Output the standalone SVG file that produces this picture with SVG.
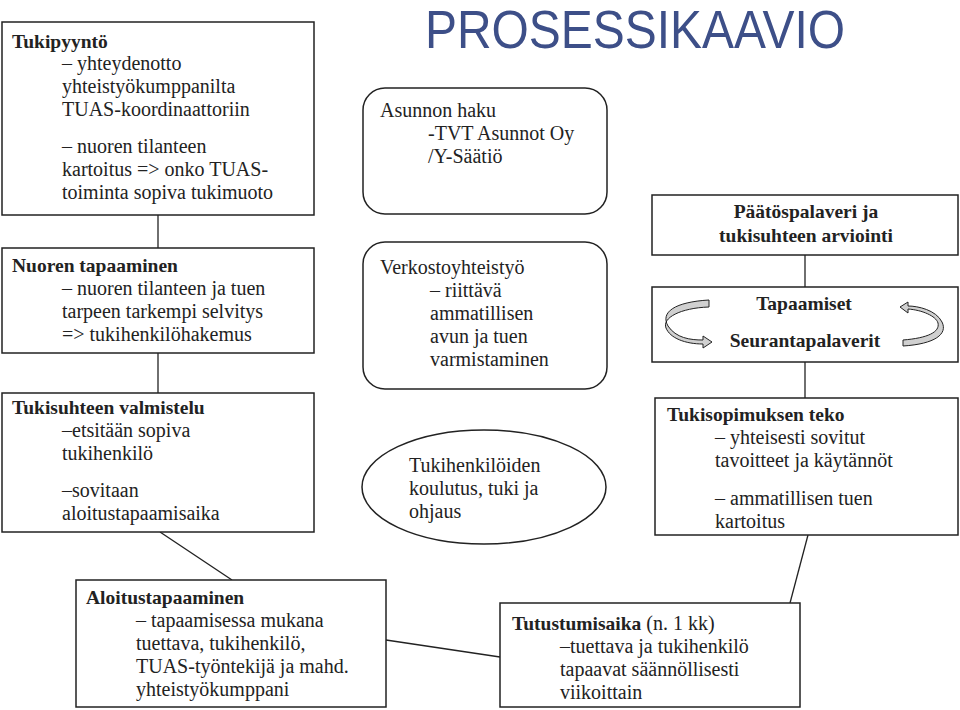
<svg xmlns="http://www.w3.org/2000/svg" width="960" height="710" viewBox="0 0 960 710">
<style>
.b{fill:#fff;stroke:#222;stroke-width:1.5}
text{font-family:"Liberation Serif","DejaVu Serif",serif;font-size:20px;fill:#222}
.h{font-weight:bold;font-size:19.5px}
.c line{stroke:#222;stroke-width:1.3}
.arr{fill:#d0d0d0;stroke:#222;stroke-width:1}
</style>
<rect width="960" height="710" fill="#fff"/>
<text x="635" y="48" text-anchor="middle" style="font-family:'Liberation Sans',sans-serif;font-size:54px;fill:#3d4f88" textLength="420" lengthAdjust="spacingAndGlyphs">PROSESSIKAAVIO</text>
<g class="c">
<line x1="158" y1="215" x2="158" y2="248"/>
<line x1="158" y1="353" x2="158" y2="393"/>
<line x1="160" y1="532" x2="232" y2="580"/>
<line x1="386" y1="640" x2="500" y2="657"/>
<line x1="805" y1="255" x2="805" y2="287"/>
<line x1="805" y1="362" x2="805" y2="398"/>
<line x1="808" y1="535" x2="790" y2="603"/>
</g>
<g id="tukipyynto"><rect class="b" x="2" y="22" width="312" height="193"/>
<text x="12" y="48" class="h">Tukipyyntö</text>
<text x="62" y="70">– yhteydenotto</text>
<text x="62" y="93">yhteistyökumppanilta</text>
<text x="62" y="116">TUAS-koordinaattoriin</text>
<text x="62" y="153">– nuoren tilanteen</text>
<text x="62" y="176">kartoitus =&gt; onko TUAS-</text>
<text x="62" y="199">toiminta sopiva tukimuoto</text></g>
<g id="nuoren"><rect class="b" x="2" y="248" width="312" height="105"/>
<text x="12" y="272" class="h">Nuoren tapaaminen</text>
<text x="62" y="295">– nuoren tilanteen ja tuen</text>
<text x="62" y="318">tarpeen tarkempi selvitys</text>
<text x="62" y="341">=&gt; tukihenkilöhakemus</text></g>
<g id="valmistelu"><rect class="b" x="2" y="393" width="312" height="139"/>
<text x="12" y="414" class="h">Tukisuhteen valmistelu</text>
<text x="62" y="437">–etsitään sopiva</text>
<text x="62" y="460">tukihenkilö</text>
<text x="62" y="497">–sovitaan</text>
<text x="62" y="520">aloitustapaamisaika</text></g>
<g id="aloitus"><rect class="b" x="76" y="580" width="310" height="127"/>
<text x="86" y="604" class="h">Aloitustapaaminen</text>
<text x="136" y="627">– tapaamisessa mukana</text>
<text x="136" y="650">tuettava, tukihenkilö,</text>
<text x="136" y="673">TUAS-työntekijä ja mahd.</text>
<text x="136" y="696">yhteistyökumppani</text></g>
<g id="asunnon"><rect class="b" x="363" y="88" width="244" height="126" rx="22"/>
<text x="380" y="117">Asunnon haku</text>
<text x="428" y="140">-TVT Asunnot Oy</text>
<text x="428" y="163">/Y-Säätiö</text></g>
<g id="verkosto"><rect class="b" x="363" y="242" width="244" height="147" rx="22"/>
<text x="380" y="274">Verkostoyhteistyö</text>
<text x="430" y="297">– riittävä</text>
<text x="430" y="320">ammatillisen</text>
<text x="430" y="343">avun ja tuen</text>
<text x="430" y="366">varmistaminen</text></g>
<g id="koulutus"><ellipse class="b" cx="484" cy="487" rx="122" ry="57"/>
<text x="409" y="472">Tukihenkilöiden</text>
<text x="409" y="495">koulutus, tuki ja</text>
<text x="409" y="518">ohjaus</text></g>
<g id="paatos"><rect class="b" x="652" y="195" width="306" height="60"/>
<text x="806" y="218" class="h" text-anchor="middle">Päätöspalaveri ja</text>
<text x="806" y="242" class="h" text-anchor="middle">tukisuhteen arviointi</text></g>
<g id="tapaamiset"><rect class="b" x="652" y="287" width="306" height="75"/>
<text x="804" y="310" class="h" text-anchor="middle">Tapaamiset</text>
<text x="805" y="347" class="h" text-anchor="middle">Seurantapalaverit</text>
<path class="arr" d="M709,300 C675,302 660,312 668,326 C676,338 690,340 703,340 L703,336 L712,342 L703,348 L703,344 C685,344 670,338 666,328 C662,318 680,308 709,307 Z"/>
<path class="arr" d="M903,346 C935,344 948,334 942,322 C936,310 918,306 908,306 L908,302 L900,307 L908,313 L908,309 C922,310 936,316 938,323 C940,332 928,338 903,340 Z"/></g>
<g id="tukisopimus"><rect class="b" x="655" y="398" width="303" height="137"/>
<text x="667" y="421" class="h">Tukisopimuksen teko</text>
<text x="715" y="444">– yhteisesti sovitut</text>
<text x="715" y="467">tavoitteet ja käytännöt</text>
<text x="715" y="505">– ammatillisen tuen</text>
<text x="715" y="528">kartoitus</text></g>
<g id="tutustumis"><rect class="b" x="500" y="603" width="300" height="104"/>
<text x="512" y="630"><tspan class="h">Tutustumisaika</tspan> (n. 1 kk)</text>
<text x="560" y="653">–tuettava ja tukihenkilö</text>
<text x="560" y="676">tapaavat säännöllisesti</text>
<text x="560" y="699">viikoittain</text></g>
</svg>
